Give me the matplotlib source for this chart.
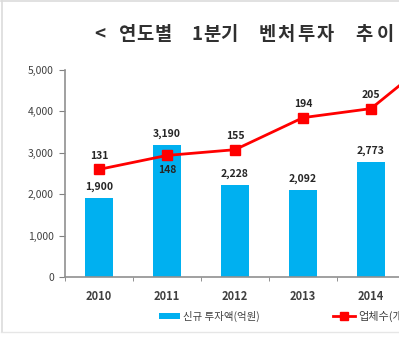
import matplotlib
matplotlib.use('Agg')
import matplotlib.pyplot as plt
from matplotlib.lines import Line2D
from matplotlib.patches import Patch

plt.rcParams['font.family'] = ['Noto Sans CJK KR', 'DejaVu Sans']

years = ['2010', '2011', '2012', '2013', '2014', '2015']
invest = [1900, 3190, 2228, 2092, 2773, 3877]   # 신규 투자액(억원)
firms = [131, 148, 155, 194, 205, 272]           # 업체수(개)
ytick_vals = [0, 1000, 2000, 3000, 4000, 5000]
title = '< 연도별 1분기 벤처투자 추이 >'
n_shown = 5   # the source image is cropped after 2014

fig = plt.figure(figsize=(3.99, 3.42), dpi=100)
fig.patch.set_facecolor('white')
# faint frame of the cropped screenshot (top, left, bottom)
fig.add_artist(Line2D([0.003, 1], [0.996, 0.996], color='#dcdcdc', lw=1.2))
fig.add_artist(Line2D([0.004, 0.004], [0.03, 0.996], color='#dcdcdc', lw=1.2))
fig.add_artist(Line2D([0.003, 1], [0.03, 0.03], color='#e6e6e6', lw=1.0))

ax = fig.add_axes([65 / 399, 65 / 342, 408 / 399, 207 / 342])
ax2 = ax.twinx()

x = list(range(len(years)))
ax.bar(x, invest, width=0.4, color='#00b0f0', zorder=2)
ax.set_xlim(-0.5, len(years) - 0.5)
ax.set_ylim(0, 5000)
ax.set_yticks(ytick_vals)
ax.set_yticklabels([f'{v:,}' for v in ytick_vals], fontsize=7.5, color='#404040')
ax.set_xticks(x[:n_shown])
ax.set_xticklabels(years[:n_shown], fontsize=8, color='#404040', fontweight='bold')
ax.set_xticks([i - 0.5 for i in range(len(years) + 1)], minor=True)
ax.tick_params(axis='x', which='major', length=0, pad=9)
ax.tick_params(axis='x', which='minor', length=3, color='#808080', direction='out')
ax.tick_params(axis='y', length=4, color='#808080', pad=4)
for s in ['top', 'right']:
    ax.spines[s].set_visible(False)
for s in ['left', 'bottom']:
    ax.spines[s].set_color('#909090')
    ax.spines[s].set_linewidth(1.2)

for xi, v in zip(x[:n_shown], invest[:n_shown]):
    ax.text(xi, v + 150, f'{v:,}', ha='center', va='bottom', fontsize=7.5,
            fontweight='bold', color='#262626')

ax2.plot(x, firms, color='#ff0000', lw=2, marker='s', markersize=7, clip_on=False, zorder=3)
ax2.set_ylim(0, 252)
ax2.axis('off')
for xi, v in zip(x[:n_shown], firms[:n_shown]):
    if v == 148:
        ax2.text(xi, v - 12, str(v), ha='center', va='top', fontsize=7.5,
                 fontweight='bold', color='#262626')
    else:
        ax2.text(xi, v + 10, str(v), ha='center', va='bottom', fontsize=7.5,
                 fontweight='bold', color='#262626')

# title with wide letter spacing, one glyph at a time
char_x = [100, None, 128, 145, 163, None, 197, 212, 229, None, 267, 286, 306, 325, None, 364, 385]
for ch, cx in zip(title, char_x):
    if cx is None or ch == ' ':
        continue
    fig.text(cx / 399, 1 - 34 / 342, ch, ha='center', va='center', fontsize=13.5,
             fontweight='bold', color='#303030')

h1 = [Patch(facecolor='#00b0f0', edgecolor='none')]
h2 = [Line2D([0], [0], color='#ff0000', lw=2, marker='s', markersize=6)]
fig.legend(h1, ['신규 투자액(억원)'], loc='center left', bbox_to_anchor=(150 / 399, 1 - 316 / 342),
           frameon=False, fontsize=7.5, handlelength=2.0, handleheight=0.5, handletextpad=0.3,
           labelcolor='#404040')
fig.legend(h2, ['업체수(개)'], loc='center left', bbox_to_anchor=(323 / 399, 1 - 316 / 342),
           frameon=False, fontsize=8, handlelength=2.0, handletextpad=0.3,
           labelcolor='#404040')

fig.savefig('out.png', dpi=100)
